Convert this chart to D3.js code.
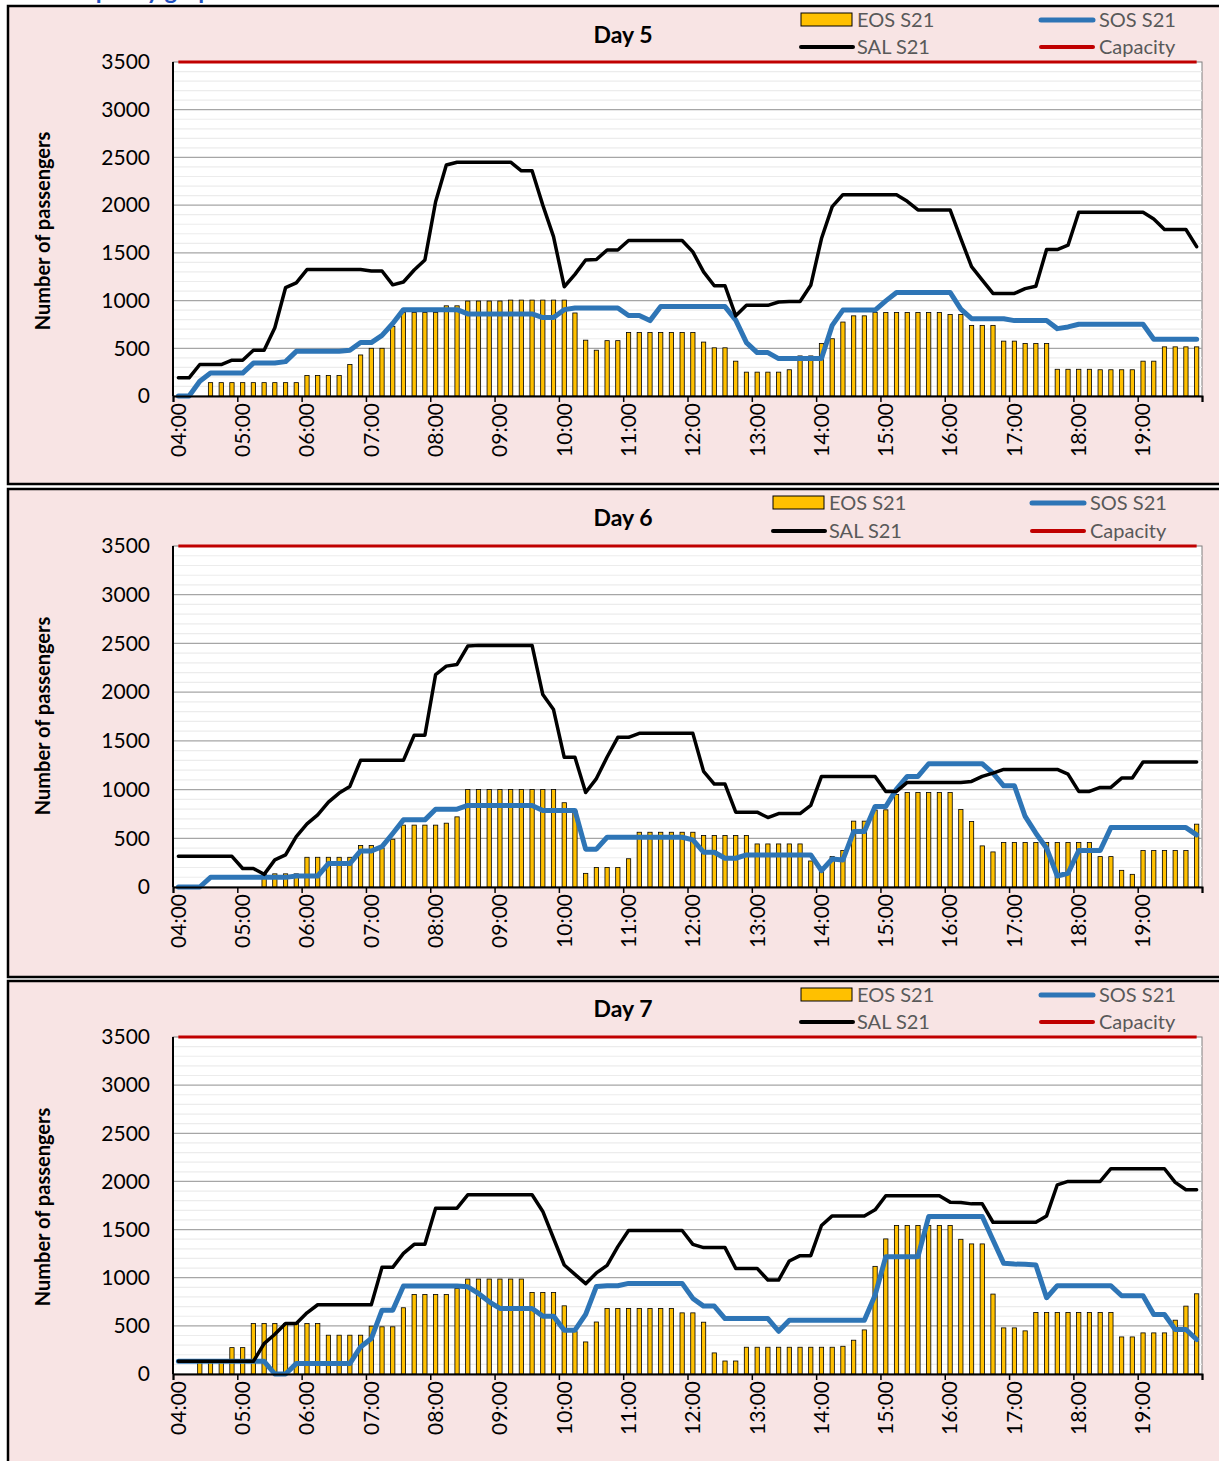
<!DOCTYPE html>
<html>
<head>
<meta charset="utf-8">
<script src="https://cdn.jsdelivr.net/npm/d3@7"></script>
<style>
  body { margin: 0; background: #fff; }
  svg text { font-family: Lato, "Open Sans", sans-serif; }
</style>
</head>
<body>
<svg id="chart" width="1219" height="1461"></svg>
<script>
// 10-minute slots from 04:00 to 19:50
const slots = d3.range(96).map((i) => {
  const m = 240 + i * 10;
  return `${String(Math.floor(m / 60)).padStart(2, '0')}:${String(m % 60).padStart(2, '0')}`;
});
const yTicks = [0, 500, 1000, 1500, 2000, 2500, 3000, 3500];
const capacity = 3500;

// Day 5
const eosDay5 = [0, 0, 0, 140, 140, 140, 140, 140, 140, 140, 140, 140, 215, 215, 215, 215,
  330, 430, 500, 500, 730, 875, 875, 875, 875, 945, 945, 995, 995, 995, 995, 1005,
  1005, 1005, 1005, 1005, 1005, 870, 585, 480, 580, 580, 665, 665, 665, 665, 665, 665,
  665, 565, 505, 505, 365, 250, 250, 250, 250, 275, 420, 420, 550, 600, 775, 840,
  840, 875, 875, 875, 875, 875, 875, 875, 855, 855, 740, 740, 740, 575, 575, 550,
  550, 550, 280, 280, 280, 280, 275, 275, 275, 275, 365, 365, 515, 515, 515, 515];
const salDay5 = [190, 190, 330, 330, 330, 375, 375, 480, 480, 715, 1135, 1185, 1325, 1325, 1325, 1325,
  1325, 1325, 1310, 1310, 1165, 1195, 1320, 1425, 2035, 2420, 2450, 2450, 2450, 2450, 2450, 2450,
  2360, 2360, 2000, 1670, 1145, 1275, 1425, 1430, 1530, 1530, 1630, 1630, 1630, 1630, 1630, 1630,
  1510, 1300, 1155, 1155, 840, 950, 950, 950, 985, 990, 990, 1160, 1650, 1985, 2110, 2110,
  2110, 2110, 2110, 2110, 2040, 1950, 1950, 1950, 1950, 1650, 1355, 1215, 1075, 1075, 1075, 1125,
  1150, 1535, 1535, 1580, 1925, 1925, 1925, 1925, 1925, 1925, 1925, 1855, 1745, 1745, 1745, 1565];
const sosDay5 = [0, 0, 155, 240, 240, 240, 240, 345, 345, 345, 360, 468, 468, 468, 468, 468,
  480, 560, 560, 635, 760, 905, 905, 905, 905, 905, 905, 860, 860, 860, 860, 860,
  860, 860, 822, 822, 905, 923, 923, 923, 923, 923, 843, 843, 790, 937, 937, 937,
  937, 937, 937, 937, 795, 560, 455, 455, 392, 392, 392, 392, 392, 740, 900, 900,
  900, 900, 997, 1085, 1085, 1085, 1085, 1085, 1085, 910, 810, 810, 810, 810, 790, 790,
  790, 790, 706, 724, 752, 752, 752, 752, 752, 752, 752, 594, 594, 594, 594, 594];

// Day 6
const eosDay6 = [0, 0, 0, 0, 0, 0, 0, 0, 135, 135, 135, 135, 305, 305, 305, 305,
  305, 425, 425, 400, 490, 635, 635, 635, 635, 655, 720, 1000, 1000, 1000, 1000, 1000,
  1000, 1000, 1000, 1000, 865, 780, 140, 200, 200, 200, 290, 562, 562, 562, 562, 562,
  562, 528, 528, 528, 528, 528, 442, 442, 442, 442, 442, 267, 170, 312, 374, 676,
  676, 790, 792, 950, 970, 970, 970, 970, 970, 796, 672, 422, 360, 456, 456, 456,
  456, 456, 456, 456, 456, 456, 312, 312, 171, 130, 374, 374, 374, 374, 374, 645];
const salDay6 = [315, 315, 315, 315, 315, 315, 190, 190, 130, 278, 329, 518, 648, 741, 871, 964,
  1032, 1300, 1300, 1300, 1300, 1300, 1557, 1557, 2181, 2267, 2284, 2473, 2480, 2480, 2480, 2480,
  2480, 2480, 1975, 1821, 1331, 1331, 970, 1113, 1334, 1536, 1536, 1577, 1577, 1577, 1577, 1577,
  1577, 1187, 1056, 1056, 768, 768, 768, 713, 754, 754, 754, 837, 1135, 1135, 1135, 1135,
  1135, 1135, 981, 981, 1073, 1073, 1073, 1073, 1073, 1073, 1084, 1135, 1169, 1207, 1207, 1207,
  1207, 1207, 1207, 1159, 981, 981, 1022, 1022, 1118, 1118, 1283, 1283, 1283, 1283, 1283, 1283];
const sosDay6 = [0, 0, 0, 99, 99, 99, 99, 99, 99, 99, 99, 113, 113, 113, 240, 240,
  240, 370, 370, 415, 549, 689, 689, 689, 799, 799, 799, 837, 837, 837, 837, 837,
  837, 837, 785, 785, 785, 785, 388, 388, 511, 511, 511, 511, 511, 511, 511, 511,
  484, 357, 357, 295, 295, 329, 329, 329, 329, 329, 329, 329, 168, 288, 278, 569,
  569, 826, 826, 1005, 1135, 1135, 1265, 1265, 1265, 1265, 1265, 1265, 1169, 1039, 1039, 724,
  552, 398, 113, 141, 374, 374, 374, 610, 610, 610, 610, 610, 610, 610, 610, 535];

// Day 7
const eosDay7 = [0, 0, 130, 130, 130, 274, 274, 524, 524, 524, 524, 524, 524, 524, 403, 403,
  403, 403, 497, 490, 490, 688, 826, 826, 826, 826, 889, 986, 986, 986, 986, 986,
  986, 847, 847, 847, 708, 440, 333, 540, 681, 681, 681, 681, 681, 681, 681, 635,
  635, 538, 219, 135, 135, 278, 278, 278, 278, 278, 278, 278, 278, 278, 288, 351,
  458, 1118, 1403, 1542, 1542, 1542, 1542, 1542, 1542, 1399, 1351, 1351, 830, 479, 479, 448,
  639, 639, 639, 639, 639, 639, 639, 639, 385, 385, 427, 427, 427, 559, 705, 833];
const salDay7 = [132, 132, 132, 132, 132, 132, 132, 132, 316, 413, 524, 524, 635, 719, 719, 719,
  719, 719, 719, 1108, 1108, 1253, 1347, 1347, 1722, 1722, 1722, 1861, 1861, 1861, 1861, 1861,
  1861, 1861, 1688, 1410, 1132, 1035, 938, 1050, 1128, 1323, 1490, 1490, 1490, 1490, 1490, 1490,
  1347, 1313, 1313, 1313, 1097, 1097, 1097, 976, 976, 1174, 1229, 1229, 1542, 1642, 1642, 1642,
  1642, 1705, 1851, 1851, 1851, 1851, 1851, 1851, 1785, 1781, 1767, 1767, 1576, 1576, 1576, 1576,
  1576, 1642, 1965, 2000, 2000, 2000, 2000, 2132, 2132, 2132, 2132, 2132, 2132, 1990, 1913, 1913];
const sosDay7 = [132, 132, 132, 132, 132, 132, 132, 132, 132, 0, 0, 108, 108, 108, 108, 108,
  108, 281, 368, 663, 663, 913, 913, 913, 913, 913, 913, 906, 837, 750, 681, 681,
  681, 681, 601, 601, 455, 455, 620, 910, 917, 917, 941, 941, 941, 941, 941, 941,
  785, 705, 705, 576, 576, 576, 576, 576, 444, 559, 559, 559, 559, 559, 559, 559,
  559, 819, 1219, 1219, 1219, 1219, 1635, 1635, 1635, 1635, 1635, 1635, 1392, 1149, 1142, 1139,
  1132, 792, 917, 917, 917, 917, 917, 917, 813, 813, 813, 618, 618, 462, 462, 358];

const days = [
  { title: 'Day 5', eos: eosDay5, sal: salDay5, sos: sosDay5 },
  { title: 'Day 6', eos: eosDay6, sal: salDay6, sos: sosDay6 },
  { title: 'Day 7', eos: eosDay7, sal: salDay7, sos: sosDay7 },
];

// panel layout (pixels)
const layout = [
  { top: 6, bottom: 484, plotTop: 62, plotBottom: 396, titleY: 35, leg1: 20, leg2: 47, legA: 801, legB: 1041, yLab: 231 },
  { top: 489, bottom: 977, plotTop: 546, plotBottom: 887, titleY: 518, leg1: 503, leg2: 531, legA: 773, legB: 1032, yLab: 716 },
  { top: 981, bottom: 1475, plotTop: 1037, plotBottom: 1374, titleY: 1009, leg1: 995, leg2: 1022, legA: 801, legB: 1041, yLab: 1207 },
];
const plotLeft = 173;
const plotRight = 1202;

const colors = { eos: '#ffc000', sos: '#2e75b6', sal: '#000000', cap: '#c00000', pink: '#f8e4e4' };

const svg = d3.select('#chart');

// section heading, mostly cut off above the page (as in the source)
svg.append('text')
  .attr('x', 40)
  .attr('y', -1)
  .attr('fill', '#1f4fbf')
  .attr('font-weight', 'bold')
  .attr('font-size', 24)
  .text('Occupancy graphs');

const x = d3.scaleBand().domain(slots).range([plotLeft, plotRight])
  .paddingInner(0.6).paddingOuter(0.3);
const xIdx = d3.scaleLinear().domain([0, 96]).range([plotLeft, plotRight]);
const cx = (i) => x(slots[i]) + x.bandwidth() / 2;

days.forEach((day, k) => {
  const L = layout[k];
  const g = svg.append('g');

  g.append('rect')
    .attr('x', 8).attr('y', L.top)
    .attr('width', 1240).attr('height', L.bottom - L.top)
    .attr('fill', colors.pink)
    .attr('stroke', '#000').attr('stroke-width', 2.5);

  const y = d3.scaleLinear().domain([0, 3500]).range([L.plotBottom, L.plotTop]);

  g.append('rect')
    .attr('x', plotLeft).attr('y', L.plotTop)
    .attr('width', plotRight - plotLeft).attr('height', L.plotBottom - L.plotTop)
    .attr('fill', '#fff').attr('stroke', '#7f7f7f').attr('stroke-width', 1);

  // minor gridlines
  g.append('g').selectAll('line')
    .data(d3.range(100, 3500, 100).filter((v) => v % 500 !== 0))
    .join('line')
    .attr('x1', plotLeft).attr('x2', plotRight)
    .attr('y1', (d) => y(d)).attr('y2', (d) => y(d))
    .attr('stroke', '#ececec').attr('stroke-width', 1.2);

  // major gridlines
  g.append('g').selectAll('line')
    .data(yTicks.filter((v) => v > 0 && v < 3500))
    .join('line')
    .attr('x1', plotLeft).attr('x2', plotRight)
    .attr('y1', (d) => y(d)).attr('y2', (d) => y(d))
    .attr('stroke', '#a6a6a6').attr('stroke-width', 1.2);

  // EOS bars
  g.append('g').selectAll('rect')
    .data(day.eos)
    .join('rect')
    .attr('x', (d, i) => x(slots[i]))
    .attr('y', (d) => y(d))
    .attr('width', x.bandwidth())
    .attr('height', (d) => y(0) - y(d))
    .attr('fill', colors.eos)
    .attr('stroke', '#000').attr('stroke-width', 0.8)
    .attr('display', (d) => (d > 0 ? null : 'none'));

  const line = d3.line().x((d, i) => cx(i)).y((d) => y(d));

  g.append('path').datum(day.sos)
    .attr('d', line)
    .attr('fill', 'none').attr('stroke', colors.sos)
    .attr('stroke-width', 5).attr('stroke-linejoin', 'round').attr('stroke-linecap', 'round');

  g.append('path').datum(day.sal)
    .attr('d', line)
    .attr('fill', 'none').attr('stroke', colors.sal)
    .attr('stroke-width', 3.5).attr('stroke-linejoin', 'round').attr('stroke-linecap', 'round');

  g.append('line')
    .attr('x1', cx(0)).attr('x2', cx(95))
    .attr('y1', y(capacity)).attr('y2', y(capacity))
    .attr('stroke', colors.cap).attr('stroke-width', 3);

  // axes
  const yAxis = g.append('g')
    .attr('transform', `translate(${plotLeft},0)`)
    .call(d3.axisLeft(y).tickValues(yTicks).tickFormat(d3.format('d')).tickSize(0).tickPadding(23));
  yAxis.select('.domain').remove();
  yAxis.selectAll('text').attr('font-size', 21).attr('fill', '#000');

  g.append('line')
    .attr('x1', plotLeft).attr('x2', plotLeft)
    .attr('y1', L.plotTop).attr('y2', L.plotBottom)
    .attr('stroke', '#000').attr('stroke-width', 2);

  g.append('g')
    .attr('transform', `translate(0,${L.plotBottom})`)
    .call(d3.axisBottom(xIdx).tickValues(d3.range(0, 97, 6)).tickSize(6).tickFormat(''))
    .call((a) => a.select('.domain').attr('stroke-width', 2))
    .call((a) => a.selectAll('.tick line').attr('stroke-width', 1.5));

  const xAxis = g.append('g')
    .attr('transform', `translate(0,${L.plotBottom})`)
    .call(d3.axisBottom(x).tickValues(slots.filter((d, i) => i % 6 === 0)).tickSize(0));
  xAxis.select('.domain').remove();
  xAxis.selectAll('text')
    .attr('font-size', 21).attr('fill', '#000')
    .attr('transform', 'rotate(-90)')
    .attr('x', -7).attr('y', 0).attr('dy', '0.35em')
    .style('text-anchor', 'end');

  // y axis title
  g.append('text')
    .attr('transform', `translate(50,${L.yLab}) rotate(-90)`)
    .attr('text-anchor', 'middle')
    .attr('font-size', 20).attr('font-weight', 'bold')
    .text('Number of passengers');

  // chart title
  g.append('text')
    .attr('x', 623).attr('y', L.titleY)
    .attr('dy', '0.35em')
    .attr('text-anchor', 'middle')
    .attr('font-size', 23).attr('font-weight', 'bold')
    .text(day.title);

  // legend
  const leg = g.append('g').attr('font-size', 20).attr('fill', '#595959');
  leg.append('rect')
    .attr('x', L.legA).attr('y', L.leg1 - 7).attr('width', 51).attr('height', 13)
    .attr('fill', colors.eos).attr('stroke', '#000').attr('stroke-width', 1);
  leg.append('line')
    .attr('x1', L.legA).attr('x2', L.legA + 52).attr('y1', L.leg2).attr('y2', L.leg2)
    .attr('stroke', colors.sal).attr('stroke-width', 4).attr('stroke-linecap', 'round');
  leg.append('line')
    .attr('x1', L.legB).attr('x2', L.legB + 52).attr('y1', L.leg1).attr('y2', L.leg1)
    .attr('stroke', colors.sos).attr('stroke-width', 5).attr('stroke-linecap', 'round');
  leg.append('line')
    .attr('x1', L.legB).attr('x2', L.legB + 52).attr('y1', L.leg2).attr('y2', L.leg2)
    .attr('stroke', colors.cap).attr('stroke-width', 4).attr('stroke-linecap', 'round');
  [['EOS S21', L.legA + 56, L.leg1], ['SAL S21', L.legA + 56, L.leg2],
    ['SOS S21', L.legB + 58, L.leg1], ['Capacity', L.legB + 58, L.leg2]]
    .forEach(([t, tx, ty]) => {
      leg.append('text').attr('x', tx).attr('y', ty).attr('dy', '0.35em').text(t);
    });
});
</script>
</body>
</html>
